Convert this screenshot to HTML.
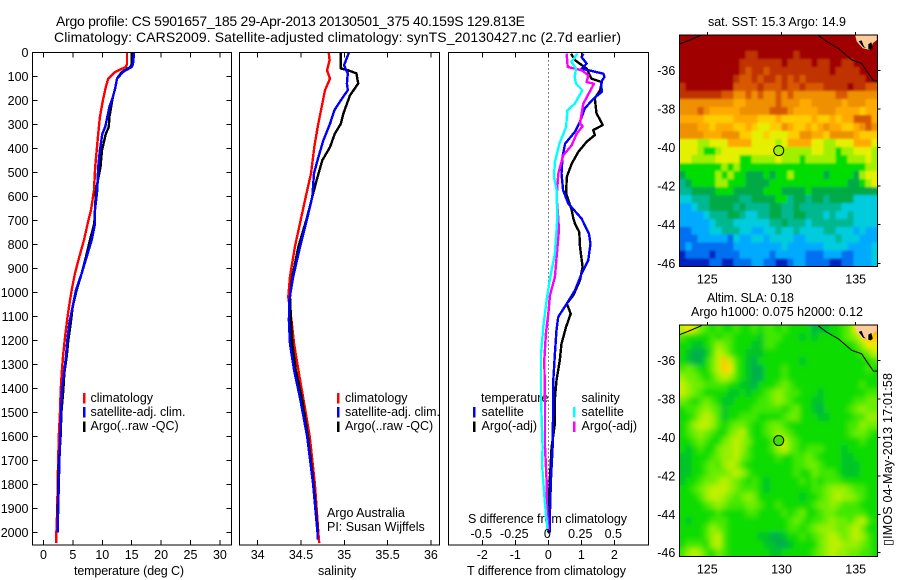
<!DOCTYPE html>
<html lang="en">
<head>
<meta charset="utf-8">
<title>Argo profile</title>
<style>
html,body{margin:0;padding:0;background:#fff;width:900px;height:580px;overflow:hidden}
svg{display:block}
text{font-family:"Liberation Sans",Arial,sans-serif;font-size:12.5px;fill:#000}
</style>
</head>
<body>
<svg id="fig" xmlns="http://www.w3.org/2000/svg" width="900" height="580" viewBox="0 0 900 580">
<defs>
<clipPath id="clip-sst"><rect x="679.3" y="35" width="198" height="231.7"/></clipPath>
<clipPath id="clip-sla"><rect x="679.3" y="325" width="198" height="231.7"/></clipPath>
<filter id="soft-sst" x="-10%" y="-10%" width="120%" height="120%"><feGaussianBlur stdDeviation="1"/></filter>
<filter id="soft-sla" x="-10%" y="-10%" width="120%" height="120%"><feGaussianBlur stdDeviation="2.6"/></filter>
</defs>
<text x="56" y="26" style="font-size:14px" textLength="469">Argo profile: CS 5901657_185 29-Apr-2013 20130501_375 40.159S 129.813E</text>
<text x="54" y="42" style="font-size:14px" textLength="567">Climatology: CARS2009. Satellite-adjusted climatology: synTS_20130427.nc (2.7d earlier)</text>
<text x="74" y="575" textLength="110">temperature (deg C)</text>
<text x="318" y="575">salinity</text>
<text x="467" y="575" textLength="159">T difference from climatology</text>
<text x="468" y="523" textLength="159">S difference from climatology</text>
<text x="327" y="517">Argo Australia</text>
<text x="327" y="531">PI: Susan Wijffels</text>
<text x="708" y="26" textLength="138">sat. SST: 15.3 Argo: 14.9</text>
<text x="707" y="302" textLength="87">Altim. SLA: 0.18</text>
<text x="691" y="316" textLength="172">Argo h1000: 0.075 h2000: 0.12</text>
<text transform="translate(892 546) rotate(-90)" textLength="173">▯IMOS 04-May-2013 17:01:58</text>

<text x="90.5" y="402">climatology</text>
<text x="90.5" y="416" textLength="95">satellite-adj. clim.</text>
<text x="90.5" y="430">Argo(..raw -QC)</text>
<text x="345" y="402">climatology</text>
<text x="345" y="416" textLength="95">satellite-adj. clim.</text>
<text x="345" y="430">Argo(..raw -QC)</text>
<text x="481" y="402">temperature</text>
<text x="481.5" y="416">satellite</text>
<text x="481.5" y="430">Argo(-adj)</text>
<text x="581.5" y="402">salinity</text>
<text x="581.5" y="416">satellite</text>
<text x="581.5" y="430">Argo(-adj)</text>
</svg>
<script>
// ---------- profile data ----------
const depthTicks = [0,100,200,300,400,500,600,700,800,900,1000,1100,1200,1300,1400,1500,1600,1700,1800,1900,2000];
const tempTicks = [0,5,10,15,20,25,30];
const salTicks = [34,34.5,35,35.5,36];
const salTickLabels = ['34','34.5','35','35.5','36'];
const tDiffTicks = [-2,-1,0,1,2];
const sDiffTicks = [-0.5,-0.25,0,0.25,0.5];
const sDiffTickLabels = ['-0.5','-0.25','0','0.25','0.5'];
const lonTicks = [125,130,135];
const latTicks = [-36,-38,-40,-42,-44,-46];

const tempClimDepth = [0,50,61,82,110,145,200,270,340,408,478,574,657,713,782,852,921,990,1060,1129,1199,1268,1338,1407,1500,1600,1700,1800,1900,2000,2045];
const tempClim = [14.2,14.2,14.0,12.2,11.0,10.6,10.1,9.6,9.3,9.05,8.8,8.59,8.08,7.52,6.89,6.09,5.36,4.80,4.34,3.95,3.61,3.32,3.10,2.93,2.8,2.6,2.5,2.4,2.35,2.2,2.2];
const tempSatDepth = [0,50,61,82,110,150,186,228,270,311,340,408,478,574,657,713,782,852,921,990,1060,1129,1199,1268,1338,1407,1500,1600,1700,1800,1900,2000];
const tempSat = [15.4,15.2,15.0,13.5,12.5,12.2,11.8,11.2,10.85,10.5,10.0,9.6,9.3,9.15,8.76,8.76,8.2,7.35,6.5,5.53,4.97,4.39,4.05,3.83,3.49,3.15,3.0,2.85,2.7,2.6,2.5,2.4];
const tempArgoDepth = [0,50,61,82,110,150,186,228,270,311,340,408,478,574,713,782,852,921,990,1060,1129,1199,1268,1338,1407,1500,1600,1700,1800,1900,2000];
const tempArgo = [15.0,15.0,14.8,13.3,12.5,12.2,11.8,11.5,11.2,11.1,10.6,9.95,9.7,8.93,8.64,7.91,7.23,6.5,5.65,4.97,4.63,4.22,3.95,3.54,3.37,3.05,2.9,2.65,2.5,2.45,2.4];

const salClimDepth = [0,33,75,110,158,214,311,395,505,603,693,810,935,1020,1117,1215,1325,1442,1600,1800,2000,2045];
const salClim = [34.82,34.83,34.80,34.835,34.777,34.746,34.693,34.654,34.615,34.554,34.50,34.43,34.373,34.353,34.39,34.42,34.47,34.527,34.60,34.66,34.70,34.71];
const salSatDepth = [0,54,88,130,158,200,242,298,367,450,505,603,693,810,935,1033,1117,1215,1325,1442,1600,1800,2000,2030];
const salSat = [35.054,34.997,35.04,35.03,35.04,34.96,34.885,34.835,34.757,34.69,34.65,34.63,34.57,34.49,34.41,34.365,34.36,34.373,34.42,34.49,34.57,34.64,34.69,34.69];
const salArgoDepth = [0,67,75,88,130,179,255,298,339,395,450,533,645,693,810,935,1020,1117,1215,1325,1442,1600,1800,2000];
const salArgo = [34.958,34.96,35.046,35.14,35.16,35.066,34.99,34.96,34.89,34.835,34.746,34.68,34.60,34.566,34.47,34.40,34.373,34.385,34.40,34.44,34.51,34.58,34.645,34.695];

const dSatDepth = [6,20,47,68,89,103,124,165,192,233,289,331,381,436,505,575,631,693,756,797,867,922,992,1047,1103,1158,1256,1367,1443,1645,1784,1923,2000];
const dTSat = [1.06,1.01,1.16,1.01,1.67,1.70,1.60,1.62,1.38,1.11,0.96,0.81,0.51,0.43,0.40,0.45,0.61,1.01,1.23,1.28,1.21,1.01,0.81,0.56,0.30,0.25,0.20,0.15,0.15,0.13,0.08,0.05,0.05];
const dArgoDepth = [6,33,68,110,124,158,192,254,303,324,345,373,415,464,519,588,658,693,714,749,811,894,950,1012,1047,1089,1144,1214,1283,1367,1443,1547,1645,1825,1923,2000];
const dTArgo = [0.69,0.81,1.16,1.31,1.62,1.57,1.41,1.46,1.65,1.36,1.41,1.16,0.91,0.71,0.56,0.54,0.71,0.76,0.81,0.94,0.96,1.04,0.96,0.76,0.56,0.68,0.54,0.40,0.35,0.25,0.20,0.20,0.10,0.03,0,0];
const dSSatDepth = [6,40,68,103,131,158,214,242,311,381,457,519,575,693,839,943,1033,1144,1256,1443,1645,1714,1825,1923,1992];
const dSSat = [0.22,0.175,0.21,0.20,0.21,0.258,0.20,0.145,0.135,0.084,0.05,0.043,0.063,0.068,0.05,0.013,-0.013,-0.038,-0.055,-0.055,-0.043,-0.048,-0.033,-0.018,-0.005];
const dSArgoDepth = [6,61,75,96,124,131,214,297,308,339,387,429,505,603,693,742,936,1012,1089,1172,1283,1443,1645,1784,1923,1992];
const dSArgo = [0.139,0.147,0.253,0.303,0.29,0.346,0.265,0.24,0.26,0.215,0.177,0.114,0.076,0.063,0.076,0.08,0.05,0.013,0,-0.018,-0.03,-0.025,-0.025,-0.013,-0.008,0.003];

// ---------- map data: one letter per grid cell, keyed into the palettes ----------
const sstPalette = {a:'#a00000',b:'#c03000',c:'#d85800',d:'#ee9000',e:'#ffaa00',f:'#ffcc00',g:'#e4f000',h:'#a0f000',i:'#00dd00',j:'#00aa44',k:'#00b890',l:'#00ccdd',m:'#00aaff',n:'#0070f0',o:'#0020c0'};
const sstRows = [
'aaaaaaaaaaaaaaaaaaaaaaaaaaaaaaaaa',
'aaaaaaaaaaaaaaaaaaaaaaaaaaaaaaaaa',
'aaaaaaaaaaabbaaaaaabaaaaaaaaaaaaa',
'aaaaaaaaaabbbbbbbabbbbabbaabbaaaa',
'aaaaaaaaaabcbbcbbbbbbbbbbabbbbaaa',
'aaaaaaaaabccbcbbcbcbcbbbbbbbbbbaa',
'baaaaaaaaccccbcccbccbcccbbbbabbcc',
'bbbbbbbccddcdcddcdcdddddddccddddd',
'dddddddddeedddddcdddeedddddedddee',
'dddcdeeeeedddddcccdeeeedddeeeefee',
'eeeefffffeeeefffefffffeffefeeccce',
'dddeefeeeffefggffdeffefedeeffedcd',
'ddddeeedddffggfgggffddeefddddefff',
'ggghhgggeeeegggghgeeeegghhgggeeeg',
'ggghiihgggggggggghhhhhgghhihhgggh',
'gghhhhggggiihhhhghhhihhhhhiihhhgh',
'iiiiiiihihiiiiiiiiiiiiiiiiiiiiihh',
'jiiiiihihiijjjijiihiiiiijiiiijhgg',
'kjiiiihhiiijjjjiiiiiiiiiiiiijjihg',
'kkjjjjiiijjjjjiiijjjjijjjjjjjjjjj',
'llkkkjjjjjkkjjjjiikjjkjjkjjjjllll',
'mmlkkjjjjkjkkkkjjkkjkkkkkkkllllll',
'mmmmlkkkjjkllkkjjkkjjkkklkllkllll',
'mmmmmlkkkllllllkkjkkklkkkkkkkllll',
'nnmmmllkkkllmmllkllkllllkklllmlmm',
'nnnmmmmmnlmmllmllllmmlllllklllmmm',
'nmnnnnnnnmmmmmmmmlmmmmmmllllmmmml',
'onnnnonnnnmmmmmnmmmmmnnnmmmnnmmml',
'ooooonnoonnnmmnnoonmmnnnnoonnmmml'
];
const slaPalette = {a:'#00ae4c',b:'#00c428',c:'#0cdc00',d:'#40e800',e:'#6cee00',f:'#96f000',g:'#c0f000',h:'#f4e800',i:'#ffc800',j:'#ffa000'};
const slaRows = [
'ghgedcdccdccdcddcdccccabbccdehiij',
'dccccdcddccccbdddcccbcbccccdefhii',
'ccbbcdfedcccbbddcccccccccccccdfhh',
'cbaabdgfdccbbbccccccccccccccccdeg',
'cbaacegigdcbacccccccbcccccccccccd',
'dedccegihdcbaacccdcccccccccccccdc',
'feedcdfgfdcbaacccdccccccccccccccc',
'gfeeddddccbbacccdedcccccccccccdcc',
'gfedccccbbcbccdefeddcccbcccccccdd',
'edcdedcbbccccddefedcccbbcccccddee',
'cddefedbccccdddddcdeccbaccccdefee',
'ccdfgfdbccdddccccdeecccbbccccddff',
'cdfggfdcdeedccdeedccccccccccddfee',
'cdefedccefgdccdefedcccccccccdeedc',
'ccdedccefgfecccdfgedccccccccccdcc',
'cbcdcceffgfdcccdfgedcdddcccbccccc',
'bbcccdeffgedccccdccddedccccbbcccc',
'bbccdedfgfdccccccccddeedcccbbbccc',
'bbccdeeefgfdcccccccdccedddcbbbccc',
'bccdeefgfedcdcbcccccdcdcdddcccccc',
'ccdefgggfedddcbcccccccddefffeddcc',
'cccdfggfedefecccccccbccdefgffedcc',
'ccccdefedddeedccdcccccdeefedddccc',
'ccccccdccccddccccdcdeccdeedddddcc',
'cbcccdddccccccccccdedcddefeedfgdc',
'ccccdfedccccccccccddcdefffeefgecc',
'ccccdfgdcccccbbaabccdcdefgfefgfdc',
'cdddcfgdccccccbbaabccccefggfffedc',
'dfgfdcedcccccccbbcccccdefgffeeddc'
];
// geography (lon, lat)
const coastEastLon = [132.48,133.04,133.83,134.73,135.40,135.85,136.19,136.46];
const coastEastLat = [-34.18,-34.51,-34.86,-35.46,-35.64,-36.16,-36.54,-36.54];
const coastWestLon = [123.11,123.83,124.62];
const coastWestLat = [-34.65,-34.43,-34.17];
const landLon = [134.96,135.07,135.47,135.97,136.15,136.42,136.42];
const landLat = [-34.17,-34.51,-34.86,-34.95,-34.6,-34.43,-34.17];
const gulfLon = [135.2,135.4,135.55,135.7,135.5];
const gulfLat = [-34.5,-34.45,-34.75,-34.85,-34.8];
const gulf2Lon = [135.85,136.05,136.15,136.0,135.85];
const gulf2Lat = [-34.65,-34.55,-34.85,-34.95,-34.9];
const argoLon = 129.813;
const argoLat = -40.159;

// ---------- scales ----------
const yDepth = d => 52.3 + d * 0.24;
const xTemp = t => 43.5 + t * 5.88;
const xSal = s => 257.7 + (s - 34) * 86.6;
const xTDiff = t => 548.3 + t * 33;
const xSDiff = s => 548.3 + s * 132;
const xLon = lon => 707.3 + (lon - 125) * 14.84;
const ySst = lat => 70.3 + (-36 - lat) * 19.3;
const ySla = lat => 360.7 + (-36 - lat) * 19.2;

const svg = document.getElementById('fig');
const NS = 'http://www.w3.org/2000/svg';
function mk(tag, attrs){
  const el = document.createElementNS(NS, tag);
  for (const k in attrs) el.setAttribute(k, attrs[k]);
  svg.appendChild(el);
  return el;
}
function pts(xs, ys){ return xs.map((x,i)=>x.toFixed(1)+','+ys[i].toFixed(1)).join(' '); }

// ---------- heatmaps ----------
function heatmap(rows, palette, box, name, clipId, filterId){
  const clipGroup = mk('g', {'clip-path':'url(#' + clipId + ')'});
  
  
  const group = document.createElementNS(NS, 'g');
  group.setAttribute('filter', 'url(#' + filterId + ')');
  
  
  clipGroup.appendChild(group);
  const cw = (box.r - box.l) / rows[0].length;
  const ch = (box.b - box.t) / rows.length;
  const pad = 10;
  rows.forEach((row, r) => {
    for (let c = 0; c < row.length; c++) {
      const x0 = box.l + c*cw - (c === 0 ? pad : 0);
      const x1 = box.l + (c+1)*cw + (c === row.length-1 ? pad : 0.6);
      const y0 = box.t + r*ch - (r === 0 ? pad : 0);
      const y1 = box.t + (r+1)*ch + (r === rows.length-1 ? pad : 0.6);
      const el = mk('rect', {x:x0, y:y0, width:x1-x0, height:y1-y0, fill:palette[row[c]], 'shape-rendering':'crispEdges'});
      
      
      group.appendChild(el);
    }
  });
}
const sstBox = {l:679.3, r:877.3, t:35, b:266.7};
const slaBox = {l:679.3, r:877.3, t:325, b:556.7};
heatmap(sstRows, sstPalette, sstBox, 'sst-cell', 'clip-sst', 'soft-sst');
heatmap(slaRows, slaPalette, slaBox, 'sla-cell', 'clip-sla', 'soft-sla');

function mapOverlay(box, yLat, prefix){
  const land = mk('polygon', {points:pts(landLon.map(xLon), landLat.map(yLat)), fill:'#ffcc99'});
  
  
  [[gulfLon,gulfLat],[gulf2Lon,gulf2Lat]].forEach(g => {
    const el = mk('polygon', {points:pts(g[0].map(xLon), g[1].map(yLat)), fill:'#000'});
    
    
  });
  [[coastEastLon,coastEastLat],[coastWestLon,coastWestLat]].forEach(g => {
    const el = mk('polyline', {points:pts(g[0].map(xLon), g[1].map(yLat)), fill:'none', stroke:'#000', 'stroke-width':1});
    
    
  });
  const frame = mk('rect', {x:box.l, y:box.t, width:box.r-box.l, height:box.b-box.t, fill:'none', stroke:'#000', 'stroke-width':1, 'shape-rendering':'crispEdges'});
  
  
  lonTicks.forEach(lon => {
    const x = xLon(lon);
    const a = mk('path', {d:`M${x} ${box.t}v-3`, stroke:'#000', 'shape-rendering':'crispEdges'});
    
    
    const t = mk('text', {x:x, y:box.b + 17, 'text-anchor':'middle'});
    t.textContent = lon;
    
    
  });
  latTicks.forEach(lat => {
    const y = yLat(lat);
    const a = mk('path', {d:`M${box.r} ${y}h3`, stroke:'#000', 'shape-rendering':'crispEdges'});
    
    
    const t = mk('text', {x:box.l - 4, y:y + 4.5, 'text-anchor':'end'});
    t.textContent = lat;
    
    
  });
}
mapOverlay(sstBox, ySst, 'sst');
mapOverlay(slaBox, ySla, 'sla');
const sstMarker = mk('circle', {cx:xLon(argoLon), cy:ySst(argoLat), r:5, fill:'#a0f000', stroke:'#000', 'stroke-width':1});


const slaMarker = mk('circle', {cx:xLon(argoLon), cy:ySla(argoLat), r:5, fill:'#44dd00', stroke:'#000', 'stroke-width':1});



// ---------- profile panels ----------
const panelTop = 52.3, panelBottom = 545;
function panelFrame(l, r, name){
  const el = mk('rect', {x:l, y:panelTop, width:r-l, height:panelBottom-panelTop, fill:'none', stroke:'#000', 'stroke-width':1, 'shape-rendering':'crispEdges'});
  
  
}
function xTicks(values, labels, scale, prefix, labelY){
  values.forEach((v,i) => {
    const x = scale(v);
    const a = mk('path', {d:`M${x} ${panelTop}v5M${x} ${panelBottom}v-5`, stroke:'#000', 'shape-rendering':'crispEdges'});
    
    
    const t = mk('text', {x:x, y:labelY, 'text-anchor':'middle'});
    t.textContent = labels[i];
    
    
  });
}
function series(xs, ds, scale, color, name){
  const el = mk('polyline', {points:pts(xs.map(scale), ds.map(yDepth)), fill:'none', stroke:color, 'stroke-width':2.4, 'stroke-linejoin':'round', 'shape-rendering':'crispEdges'});
  
  
}
function legendMark(x, y, color, name){
  const el = mk('rect', {x:x-1, y:y, width:2.5, height:10.5, fill:color, 'shape-rendering':'crispEdges'});
  
  
}

// Zero line of difference panel
const zeroLine = mk('line', {x1:xTDiff(0), x2:xTDiff(0), y1:panelTop, y2:panelBottom, stroke:'#000', 'stroke-width':1, 'stroke-dasharray':'1 3', 'shape-rendering':'crispEdges'});



series(tempClim, tempClimDepth, xTemp, '#ff0000', 'temperature-climatology-line');
series(tempArgo, tempArgoDepth, xTemp, '#000000', 'temperature-argo-line');
series(tempSat, tempSatDepth, xTemp, '#0000ff', 'temperature-satellite-line');
series(salClim, salClimDepth, xSal, '#ff0000', 'salinity-climatology-line');
series(salArgo, salArgoDepth, xSal, '#000000', 'salinity-argo-line');
series(salSat, salSatDepth, xSal, '#0000ff', 'salinity-satellite-line');
series(dTArgo, dArgoDepth, xTDiff, '#000000', 't-difference-argo-line');
series(dTSat, dSatDepth, xTDiff, '#0000ff', 't-difference-satellite-line');
series(dSArgo, dSArgoDepth, xSDiff, '#ff00ff', 's-difference-argo-line');
series(dSSat, dSSatDepth, xSDiff, '#00ffff', 's-difference-satellite-line');

panelFrame(32.3, 231.3, 'temperature-panel-frame');
panelFrame(239.3, 439.3, 'salinity-panel-frame');
panelFrame(448.3, 648.3, 'difference-panel-frame');

depthTicks.forEach(d => {
  const y = yDepth(d);
  const a = mk('path', {d:`M32.3 ${y}h5M231.3 ${y}h-5`, stroke:'#000', 'shape-rendering':'crispEdges'});
  
  
  const t = mk('text', {x:28.5, y:y + 4.5, 'text-anchor':'end'});
  t.textContent = d;
  
  
});
xTicks(tempTicks, tempTicks, xTemp, 'temperature', 559);
xTicks(salTicks, salTickLabels, xSal, 'salinity', 559);
xTicks(tDiffTicks, tDiffTicks, xTDiff, 't-difference', 559);
sDiffTicks.forEach((v,i) => {
  const t = mk('text', {x:xSDiff(v) - 1, y:538, 'text-anchor':'middle'});
  t.textContent = sDiffTickLabels[i];
  
  
});

legendMark(84, 392.8, '#ff0000', 'legend-t-climatology-swatch');
legendMark(84, 406.8, '#0000ff', 'legend-t-satellite-swatch');
legendMark(84, 421.5, '#000000', 'legend-t-argo-swatch');
legendMark(338, 392.8, '#ff0000', 'legend-s-climatology-swatch');
legendMark(338, 406.8, '#0000ff', 'legend-s-satellite-swatch');
legendMark(338, 421.5, '#000000', 'legend-s-argo-swatch');
legendMark(474, 406.8, '#0000ff', 'legend-diff-t-satellite-swatch');
legendMark(474, 421.5, '#000000', 'legend-diff-t-argo-swatch');
legendMark(574, 406.8, '#00ffff', 'legend-diff-s-satellite-swatch');
legendMark(574, 421.5, '#ff00ff', 'legend-diff-s-argo-swatch');
</script>
</body>
</html>
